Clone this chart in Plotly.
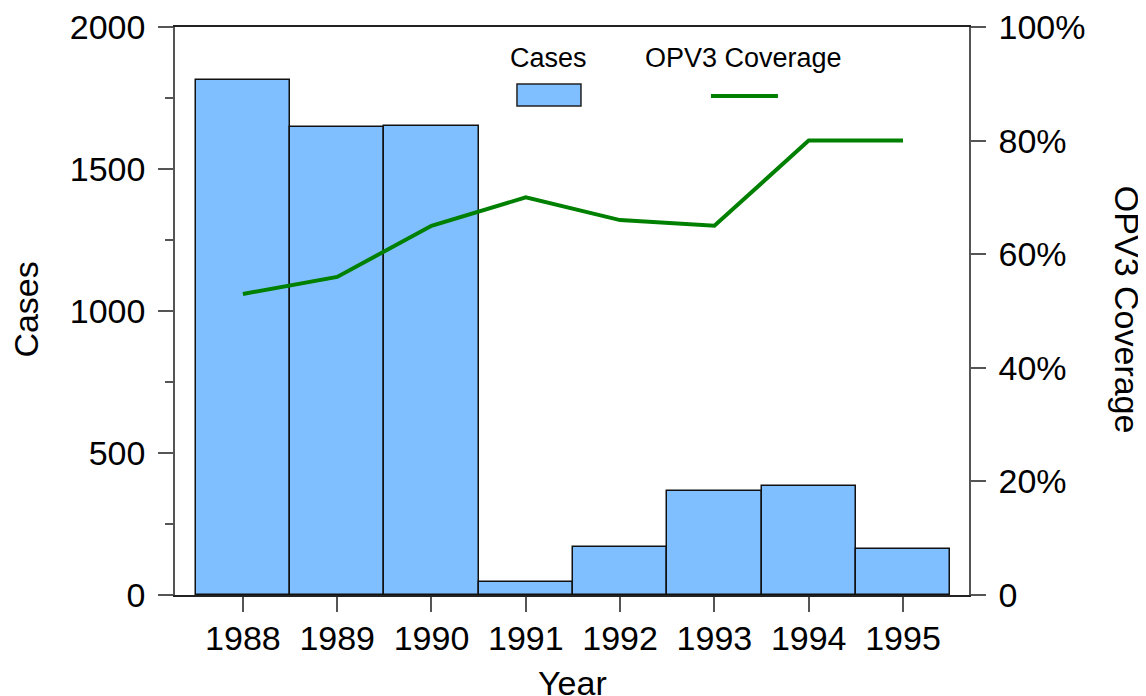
import plotly.graph_objects as go

years = [1988, 1989, 1990, 1991, 1992, 1993, 1994, 1995]
cases = [1813, 1648, 1650, 45, 170, 365, 385, 162]
opv3_coverage = [53, 56, 65, 70, 66, 65, 80, 80]

pct_ticks = [0, 20, 40, 60, 80, 100]
pct_labels = ["0", "20%", "40%", "60%", "80%", "100%"]

FONT = "Liberation Sans"
axis_col = "#555555"

fig = go.Figure()

fig.add_trace(go.Bar(
    x=years, y=cases, width=1.0, name="Cases",
    marker=dict(color="#80BFFF", line=dict(color="#111111", width=1.5)),
    showlegend=False,
))

fig.add_trace(go.Scatter(
    x=years, y=opv3_coverage, yaxis="y2", mode="lines", name="OPV3 Coverage",
    line=dict(color="#008000", width=4), showlegend=False,
))

# legend drawn by hand: labels above swatches
fig.add_shape(type="rect", xref="paper", yref="paper",
              x0=0.4307, x1=0.5113, y0=0.861, y1=0.8996,
              fillcolor="#80BFFF", line=dict(color="#222222", width=1.5))
fig.add_shape(type="line", xref="paper", yref="paper",
              x0=0.675, x1=0.7594, y0=0.8785, y1=0.8785,
              line=dict(color="#008000", width=4))
fig.add_annotation(text="Cases", xref="paper", yref="paper", x=0.471, y=0.945,
                   xanchor="center", yanchor="middle", showarrow=False,
                   font=dict(size=27, color="black", family=FONT))
fig.add_annotation(text="OPV3 Coverage", xref="paper", yref="paper", x=0.7166, y=0.945,
                   xanchor="center", yanchor="middle", showarrow=False,
                   font=dict(size=27, color="black", family=FONT))

# axis titles placed by hand so they sit where the reference has them
fig.add_annotation(text="OPV3 Coverage", xref="paper", yref="paper", x=1.199, y=0.502,
                   xanchor="center", yanchor="middle", textangle=90, showarrow=False,
                   font=dict(size=34, color="black", family=FONT))
fig.add_annotation(text="Cases", xref="paper", yref="paper", x=-0.188, y=0.502,
                   xanchor="center", yanchor="middle", textangle=-90, showarrow=False,
                   font=dict(size=34, color="black", family=FONT))
fig.add_annotation(text="Year", xref="paper", yref="paper", x=0.5, y=-0.155,
                   xanchor="center", yanchor="middle", showarrow=False,
                   font=dict(size=34, color="black", family=FONT))

# page body adds an 8px offset, so the figure is shrunk by that much
fig.update_layout(
    width=1138, height=688,
    margin=dict(l=167, r=177, t=19, b=101),
    paper_bgcolor="white", plot_bgcolor="white",
    font=dict(family=FONT, size=34, color="black"),
    bargap=0,
    xaxis=dict(
        range=[1987.28, 1995.7], tickvals=years, ticks="outside", ticklen=15,
        tickcolor=axis_col, tickwidth=1.5, showline=True, linecolor="#222222",
        linewidth=1.5, mirror=True, showgrid=False, zeroline=False,
        automargin=False, ticklabelstandoff=-3, ticklabeloverflow="allow",
    ),
    yaxis=dict(
        range=[0, 2000], tickvals=[0, 500, 1000, 1500, 2000], ticks="outside",
        ticklen=15, tickcolor=axis_col, tickwidth=1.5, showline=True,
        linecolor=axis_col, linewidth=1.5, showgrid=False, zeroline=False,
        minor=dict(tickvals=[250, 750, 1250, 1750], ticks="outside", ticklen=8,
                   tickcolor=axis_col, tickwidth=1.5),
        automargin=False, ticklabelstandoff=6, ticklabeloverflow="allow",
    ),
    yaxis2=dict(
        range=[0, 100], overlaying="y", side="right", tickvals=pct_ticks,
        ticktext=pct_labels, ticks="outside", ticklen=15, tickcolor=axis_col,
        tickwidth=1.5, showline=True, linecolor=axis_col, linewidth=1.5,
        showgrid=False, zeroline=False, automargin=False, ticklabelstandoff=6,
        ticklabeloverflow="allow",
    ),
)

fig.write_html("out.html")
